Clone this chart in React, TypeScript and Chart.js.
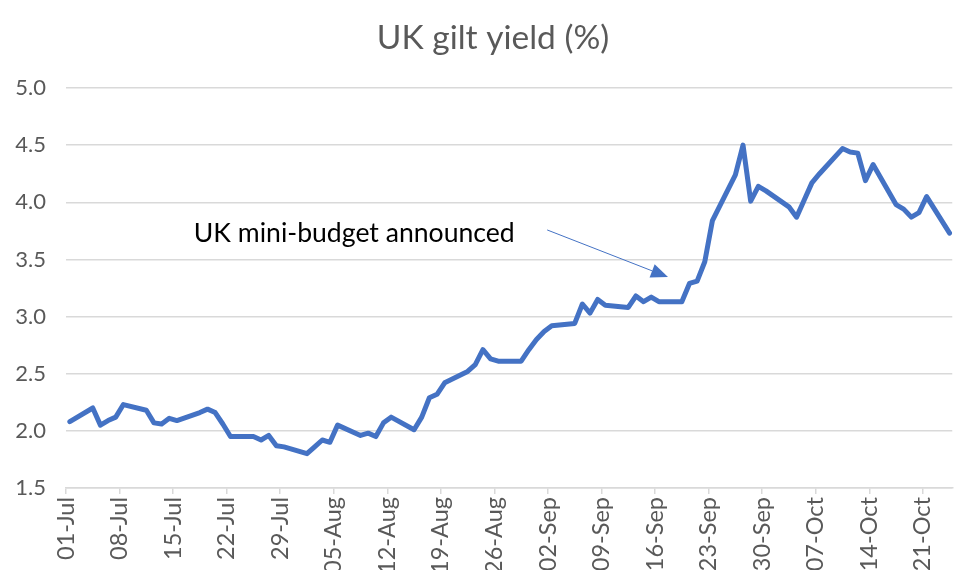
import React, { useEffect, useRef } from 'react';
import { Chart, registerables } from 'chart.js';

Chart.register(...registerables);

const START = [2022, 6, 1];

const dates = [
  '2022-07-01', '2022-07-04', '2022-07-05', '2022-07-06', '2022-07-07', '2022-07-08',
  '2022-07-11', '2022-07-12', '2022-07-13', '2022-07-14', '2022-07-15',
  '2022-07-18', '2022-07-19', '2022-07-20', '2022-07-21', '2022-07-22',
  '2022-07-25', '2022-07-26', '2022-07-27', '2022-07-28', '2022-07-29',
  '2022-08-01', '2022-08-02', '2022-08-03', '2022-08-04', '2022-08-05',
  '2022-08-08', '2022-08-09', '2022-08-10', '2022-08-11', '2022-08-12',
  '2022-08-15', '2022-08-16', '2022-08-17', '2022-08-18', '2022-08-19',
  '2022-08-22', '2022-08-23', '2022-08-24', '2022-08-25', '2022-08-26',
  '2022-08-29', '2022-08-30', '2022-08-31', '2022-09-01', '2022-09-02',
  '2022-09-05', '2022-09-06', '2022-09-07', '2022-09-08', '2022-09-09',
  '2022-09-12', '2022-09-13', '2022-09-14', '2022-09-15', '2022-09-16',
  '2022-09-19', '2022-09-20', '2022-09-21', '2022-09-22', '2022-09-23',
  '2022-09-26', '2022-09-27', '2022-09-28', '2022-09-29', '2022-09-30',
  '2022-10-03', '2022-10-04', '2022-10-05', '2022-10-06', '2022-10-07',
  '2022-10-10', '2022-10-11', '2022-10-12', '2022-10-13', '2022-10-14',
  '2022-10-17', '2022-10-18', '2022-10-19', '2022-10-20', '2022-10-21',
  '2022-10-24',
];

const yields = [
  2.08, 2.20, 2.05, 2.09, 2.12, 2.23,
  2.18, 2.07, 2.06, 2.11, 2.09,
  2.16, 2.19, 2.16, 2.06, 1.95,
  1.95, 1.92, 1.96, 1.87, 1.86,
  1.80, 1.86, 1.92, 1.90, 2.05,
  1.96, 1.98, 1.95, 2.07, 2.12,
  2.01, 2.12, 2.29, 2.32, 2.42,
  2.52, 2.58, 2.71, 2.63, 2.61,
  2.61, 2.71, 2.80, 2.87, 2.92,
  2.94, 3.11, 3.03, 3.15, 3.10,
  3.08, 3.18, 3.13, 3.17, 3.13,
  3.13, 3.29, 3.31, 3.48, 3.84,
  4.24, 4.50, 4.01, 4.14, 4.10,
  3.96, 3.87, 4.02, 4.17, 4.25,
  4.47, 4.44, 4.43, 4.19, 4.33,
  3.98, 3.94, 3.87, 3.91, 4.05,
  3.73,
];

const xTickLabels = [
  '01-Jul', '08-Jul', '15-Jul', '22-Jul', '29-Jul', '05-Aug', '12-Aug', '19-Aug',
  '26-Aug', '02-Sep', '09-Sep', '16-Sep', '23-Sep', '30-Sep', '07-Oct', '14-Oct', '21-Oct',
];

const yMin = 1.5;
const yMax = 5.0;
const yStep = 0.5;
const xDaysShown = 115.85;
const tickEveryDays = 7;

const titleText = 'UK gilt yield (%)';
const noteText = 'UK mini-budget announced';
// annotation anchors in data space: [day, value]
const noteTextAt = [37.68, 3.653];
const noteArrowFrom = [62.9, 3.758];
const noteArrowTo = [78.69, 3.346];

function dayOffset(s: string): number {
  const [y, m, d] = s.split('-').map(Number);
  return (Date.UTC(y, m - 1, d) - Date.UTC(START[0], START[1], START[2])) / 86400000;
}

const FONT = 'Lato, "Open Sans", sans-serif';
const GREY = '#595959';
const GRID = '#D9D9D9';
const BLUE = '#4472C4';

const overlayPlugin = {
  id: 'overlay',
  afterDraw(chart: any) {
    const { ctx, scales } = chart;
    const x = scales.x;
    const y = scales.y;
    ctx.save();
    // title
    ctx.font = `33.5px ${FONT}`;
    ctx.fillStyle = GREY;
    ctx.textAlign = 'center';
    ctx.textBaseline = 'middle';
    ctx.fillText(titleText, 493, 38);

    // annotation text
    ctx.font = `26.6px ${FONT}`;
    ctx.fillStyle = '#000000';
    ctx.textAlign = 'center';
    ctx.textBaseline = 'alphabetic';
    ctx.fillText(noteText, x.getPixelForValue(noteTextAt[0]), y.getPixelForValue(noteTextAt[1]));

    // arrow
    const x0 = x.getPixelForValue(noteArrowFrom[0]);
    const y0 = y.getPixelForValue(noteArrowFrom[1]);
    const x1 = x.getPixelForValue(noteArrowTo[0]);
    const y1 = y.getPixelForValue(noteArrowTo[1]);
    const dx = x1 - x0;
    const dy = y1 - y0;
    const len = Math.hypot(dx, dy);
    const ux = dx / len;
    const uy = dy / len;
    const headLen = 17;
    const headHalf = 7;
    const bx = x1 - ux * headLen;
    const by = y1 - uy * headLen;
    ctx.strokeStyle = BLUE;
    ctx.lineWidth = 1;
    ctx.beginPath();
    ctx.moveTo(x0, y0);
    ctx.lineTo(bx, by);
    ctx.stroke();
    ctx.fillStyle = BLUE;
    ctx.beginPath();
    ctx.moveTo(x1, y1);
    ctx.lineTo(bx - uy * headHalf, by + ux * headHalf);
    ctx.lineTo(bx + uy * headHalf, by - ux * headHalf);
    ctx.closePath();
    ctx.fill();
    ctx.restore();
  },
};

export default function App() {
  const canvasRef = useRef<HTMLCanvasElement | null>(null);

  useEffect(() => {
    if (!canvasRef.current) return;
    const points = dates.map((d, i) => ({ x: dayOffset(d) + 0.5, y: yields[i] }));
    const chart = new Chart(canvasRef.current, {
      type: 'line',
      data: {
        datasets: [
          {
            data: points,
            borderColor: BLUE,
            backgroundColor: BLUE,
            borderWidth: 5,
            pointRadius: 0,
            tension: 0,
            borderJoinStyle: 'round',
            borderCapStyle: 'round',
          },
        ],
      },
      options: {
        responsive: false,
        animation: false,
        devicePixelRatio: 1,
        layout: { padding: { top: 88, right: 0, bottom: 0, left: 0 } },
        plugins: {
          legend: { display: false },
          title: { display: false },
          tooltip: { enabled: false },
        },
        scales: {
          x: {
            type: 'linear',
            min: 0,
            max: xDaysShown,
            afterBuildTicks: (scale: any) => {
              scale.ticks = xTickLabels.map((_, i) => ({ value: i * tickEveryDays }));
            },
            afterFit: (scale: any) => {
              scale.height = 82;
            },
            ticks: {
              autoSkip: false,
              minRotation: 90,
              maxRotation: 90,
              padding: 3,
              color: GREY,
              font: { family: FONT, size: 23.5 },
              callback: (v: any) => xTickLabels[Math.round(Number(v) / tickEveryDays)] ?? '',
            },
            grid: {
              drawOnChartArea: false,
              drawTicks: true,
              tickLength: 6,
              color: GRID,
              lineWidth: 1.5,
            },
            border: { display: true, color: GRID, width: 1.5 },
          },
          y: {
            type: 'linear',
            min: yMin,
            max: yMax,
            afterFit: (scale: any) => {
              scale.width = 66;
            },
            ticks: {
              stepSize: yStep,
              padding: 20,
              color: GREY,
              font: { family: FONT, size: 22 },
              callback: (v: any) => Number(v).toFixed(1),
            },
            grid: {
              drawTicks: false,
              color: GRID,
              lineWidth: 1.5,
            },
            border: { display: false },
          },
        },
      },
      plugins: [overlayPlugin],
    });
    return () => chart.destroy();
  }, []);

  return (
    <div style={{ position: 'fixed', left: 0, top: 0, width: 954, height: 570, background: '#fff' }}>
      <canvas ref={canvasRef} width={954} height={570} style={{ display: 'block' }} />
    </div>
  );
}
